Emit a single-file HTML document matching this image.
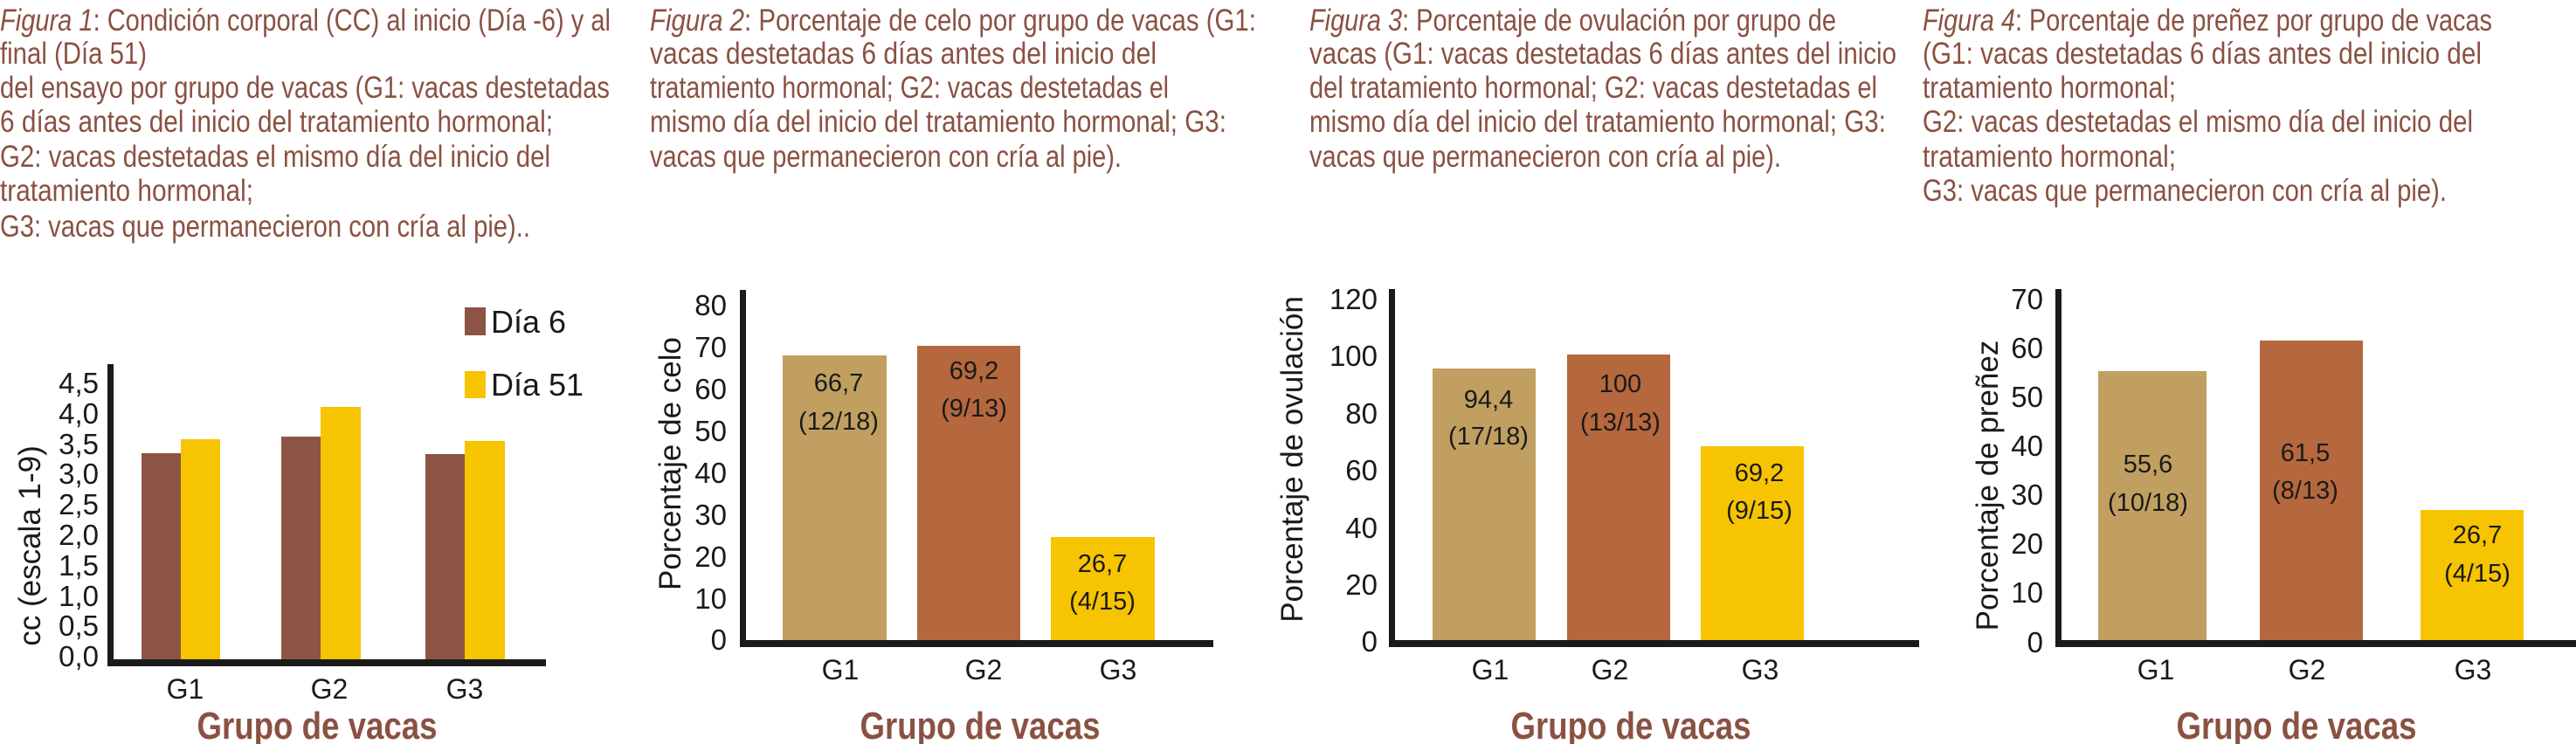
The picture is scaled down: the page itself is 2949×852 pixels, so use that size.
<!DOCTYPE html>
<html><head><meta charset="utf-8"><style>
html,body{margin:0;padding:0;background:#fff;}
svg{display:block;}
.t{font-family:"Liberation Sans Narrow","Liberation Sans",sans-serif;font-size:35px;fill:#8a5142;}
.n{font-family:"Liberation Sans Narrow","Liberation Sans",sans-serif;fill:#1a1a1a;}
.tick{font-size:33px;text-anchor:end;}
.bl{font-size:29px;text-anchor:middle;}
.g{font-size:32px;text-anchor:middle;}
.yl{font-family:"Liberation Sans",sans-serif;font-size:35px;fill:#1a1a1a;text-anchor:middle;}
.gx{font-family:"Liberation Sans Narrow","Liberation Sans",sans-serif;font-weight:bold;font-size:44px;fill:#8a5142;text-anchor:middle;}
</style></head><body>
<svg width="2949" height="852" viewBox="0 0 2949 852" xmlns="http://www.w3.org/2000/svg">
<rect width="2949" height="852" fill="#fff"/>
<g class="t">
<text x="0" y="35" textLength="699" lengthAdjust="spacingAndGlyphs"><tspan font-style="italic">Figura 1</tspan>: Condición corporal (CC) al inicio (Día -6) y al</text>
<text x="0" y="73" textLength="168" lengthAdjust="spacingAndGlyphs">final (Día 51)</text>
<text x="0" y="112" textLength="698" lengthAdjust="spacingAndGlyphs">del ensayo por grupo de vacas (G1: vacas destetadas</text>
<text x="0" y="151" textLength="633" lengthAdjust="spacingAndGlyphs">6 días antes del inicio del tratamiento hormonal;</text>
<text x="0" y="191" textLength="630" lengthAdjust="spacingAndGlyphs">G2: vacas destetadas el mismo día del inicio del</text>
<text x="0" y="230" textLength="290" lengthAdjust="spacingAndGlyphs">tratamiento hormonal;</text>
<text x="0" y="271" textLength="607" lengthAdjust="spacingAndGlyphs">G3: vacas que permanecieron con cría al pie)..</text>

<text x="744" y="35" textLength="694" lengthAdjust="spacingAndGlyphs"><tspan font-style="italic">Figura 2</tspan>: Porcentaje de celo por grupo de vacas (G1:</text>
<text x="744" y="73" textLength="580" lengthAdjust="spacingAndGlyphs">vacas destetadas 6 días antes del inicio del</text>
<text x="744" y="112" textLength="594" lengthAdjust="spacingAndGlyphs">tratamiento hormonal; G2: vacas destetadas el</text>
<text x="744" y="151" textLength="660" lengthAdjust="spacingAndGlyphs">mismo día del inicio del tratamiento hormonal; G3:</text>
<text x="744" y="191" textLength="540" lengthAdjust="spacingAndGlyphs">vacas que permanecieron con cría al pie).</text>

<text x="1499" y="35" textLength="603" lengthAdjust="spacingAndGlyphs"><tspan font-style="italic">Figura 3</tspan>: Porcentaje de ovulación por grupo de</text>
<text x="1499" y="73" textLength="672" lengthAdjust="spacingAndGlyphs">vacas (G1: vacas destetadas 6 días antes del inicio</text>
<text x="1499" y="112" textLength="650" lengthAdjust="spacingAndGlyphs">del tratamiento hormonal; G2: vacas destetadas el</text>
<text x="1499" y="151" textLength="660" lengthAdjust="spacingAndGlyphs">mismo día del inicio del tratamiento hormonal; G3:</text>
<text x="1499" y="191" textLength="540" lengthAdjust="spacingAndGlyphs">vacas que permanecieron con cría al pie).</text>

<text x="2201" y="35" textLength="652" lengthAdjust="spacingAndGlyphs"><tspan font-style="italic">Figura 4</tspan>: Porcentaje de preñez por grupo de vacas</text>
<text x="2201" y="73" textLength="640" lengthAdjust="spacingAndGlyphs">(G1: vacas destetadas 6 días antes del inicio del</text>
<text x="2201" y="112" textLength="290" lengthAdjust="spacingAndGlyphs">tratamiento hormonal;</text>
<text x="2201" y="151" textLength="630" lengthAdjust="spacingAndGlyphs">G2: vacas destetadas el mismo día del inicio del</text>
<text x="2201" y="191" textLength="290" lengthAdjust="spacingAndGlyphs">tratamiento hormonal;</text>
<text x="2201" y="230" textLength="600" lengthAdjust="spacingAndGlyphs">G3: vacas que permanecieron con cría al pie).</text>
</g>

<!-- Chart 1 -->
<rect x="162" y="519" width="45" height="236" fill="#8c5444"/>
<rect x="207" y="503" width="45" height="252" fill="#f6c400"/>
<rect x="322" y="500" width="45" height="255" fill="#8c5444"/>
<rect x="367" y="466" width="46" height="289" fill="#f6c400"/>
<rect x="487" y="520" width="45" height="235" fill="#8c5444"/>
<rect x="532" y="505" width="46" height="250" fill="#f6c400"/>
<rect x="123" y="417" width="7" height="346" fill="#1a1a1a"/>
<rect x="123" y="755" width="502" height="8" fill="#1a1a1a"/>
<g class="n tick">
<text x="113" y="450">4,5</text><text x="113" y="485">4,0</text><text x="113" y="520">3,5</text>
<text x="113" y="554">3,0</text><text x="113" y="589">2,5</text><text x="113" y="624">2,0</text>
<text x="113" y="659">1,5</text><text x="113" y="694">1,0</text><text x="113" y="728">0,5</text>
<text x="113" y="763">0,0</text>
</g>
<g class="n g"><text x="212" y="800">G1</text><text x="377" y="800">G2</text><text x="532" y="800">G3</text></g>
<rect x="532" y="352" width="24" height="32" fill="#8c5444"/>
<rect x="532" y="425" width="24" height="31" fill="#f6c400"/>
<text class="n" x="562" y="381" font-size="36">Día 6</text>
<text class="n" x="562" y="453" font-size="36">Día 51</text>
<text class="yl" transform="translate(46,625) rotate(-90)">cc (escala 1-9)</text>
<text class="gx" x="363" y="846" textLength="275" lengthAdjust="spacingAndGlyphs">Grupo de vacas</text>

<!-- Chart 2 -->
<rect x="896" y="407" width="119" height="326" fill="#c09f61"/>
<rect x="1050" y="396" width="118" height="337" fill="#b5673d"/>
<rect x="1203" y="615" width="119" height="118" fill="#f6c400"/>
<rect x="847" y="332" width="7" height="409" fill="#1a1a1a"/>
<rect x="847" y="733" width="542" height="8" fill="#1a1a1a"/>
<g class="n tick">
<text x="832" y="361">80</text><text x="832" y="409">70</text><text x="832" y="457">60</text>
<text x="832" y="505">50</text><text x="832" y="553">40</text><text x="832" y="601">30</text>
<text x="832" y="649">20</text><text x="832" y="697">10</text><text x="832" y="744">0</text>
</g>
<g class="n bl">
<text x="960" y="448">66,7</text><text x="960" y="492">(12/18)</text>
<text x="1115" y="434">69,2</text><text x="1115" y="477">(9/13)</text>
<text x="1262" y="655">26,7</text><text x="1262" y="698">(4/15)</text>
</g>
<g class="n g"><text x="962" y="778">G1</text><text x="1126" y="778">G2</text><text x="1280" y="778">G3</text></g>
<text class="yl" transform="translate(779,531) rotate(-90)">Porcentaje de celo</text>
<text class="gx" x="1122" y="846" textLength="275" lengthAdjust="spacingAndGlyphs">Grupo de vacas</text>

<!-- Chart 3 -->
<rect x="1640" y="422" width="118" height="311" fill="#c09f61"/>
<rect x="1794" y="406" width="118" height="327" fill="#b5673d"/>
<rect x="1947" y="511" width="118" height="222" fill="#f6c400"/>
<rect x="1590" y="331" width="7" height="410" fill="#1a1a1a"/>
<rect x="1590" y="733" width="607" height="8" fill="#1a1a1a"/>
<g class="n tick">
<text x="1577" y="354">120</text><text x="1577" y="419">100</text><text x="1577" y="485">80</text>
<text x="1577" y="550">60</text><text x="1577" y="616">40</text><text x="1577" y="681">20</text>
<text x="1577" y="746">0</text>
</g>
<g class="n bl">
<text x="1704" y="467">94,4</text><text x="1704" y="509">(17/18)</text>
<text x="1855" y="449">100</text><text x="1855" y="493">(13/13)</text>
<text x="2014" y="551">69,2</text><text x="2014" y="594">(9/15)</text>
</g>
<g class="n g"><text x="1706" y="778">G1</text><text x="1843" y="778">G2</text><text x="2015" y="778">G3</text></g>
<text class="yl" transform="translate(1491,526) rotate(-90)">Porcentaje de ovulación</text>
<text class="gx" x="1867" y="846" textLength="275" lengthAdjust="spacingAndGlyphs">Grupo de vacas</text>

<!-- Chart 4 -->
<rect x="2402" y="425" width="124" height="308" fill="#c09f61"/>
<rect x="2587" y="390" width="118" height="343" fill="#b5673d"/>
<rect x="2771" y="584" width="118" height="149" fill="#f6c400"/>
<rect x="2353" y="331" width="7" height="410" fill="#1a1a1a"/>
<rect x="2353" y="733" width="596" height="8" fill="#1a1a1a"/>
<g class="n tick">
<text x="2339" y="354">70</text><text x="2339" y="410">60</text><text x="2339" y="466">50</text>
<text x="2339" y="522">40</text><text x="2339" y="578">30</text><text x="2339" y="634">20</text>
<text x="2339" y="690">10</text><text x="2339" y="747">0</text>
</g>
<g class="n bl">
<text x="2459" y="541">55,6</text><text x="2459" y="585">(10/18)</text>
<text x="2639" y="528">61,5</text><text x="2639" y="571">(8/13)</text>
<text x="2836" y="622">26,7</text><text x="2836" y="666">(4/15)</text>
</g>
<g class="n g"><text x="2468" y="778">G1</text><text x="2641" y="778">G2</text><text x="2831" y="778">G3</text></g>
<text class="yl" transform="translate(2287,556) rotate(-90)">Porcentaje de preñez</text>
<text class="gx" x="2629" y="846" textLength="275" lengthAdjust="spacingAndGlyphs">Grupo de vacas</text>
</svg>
</body></html>
